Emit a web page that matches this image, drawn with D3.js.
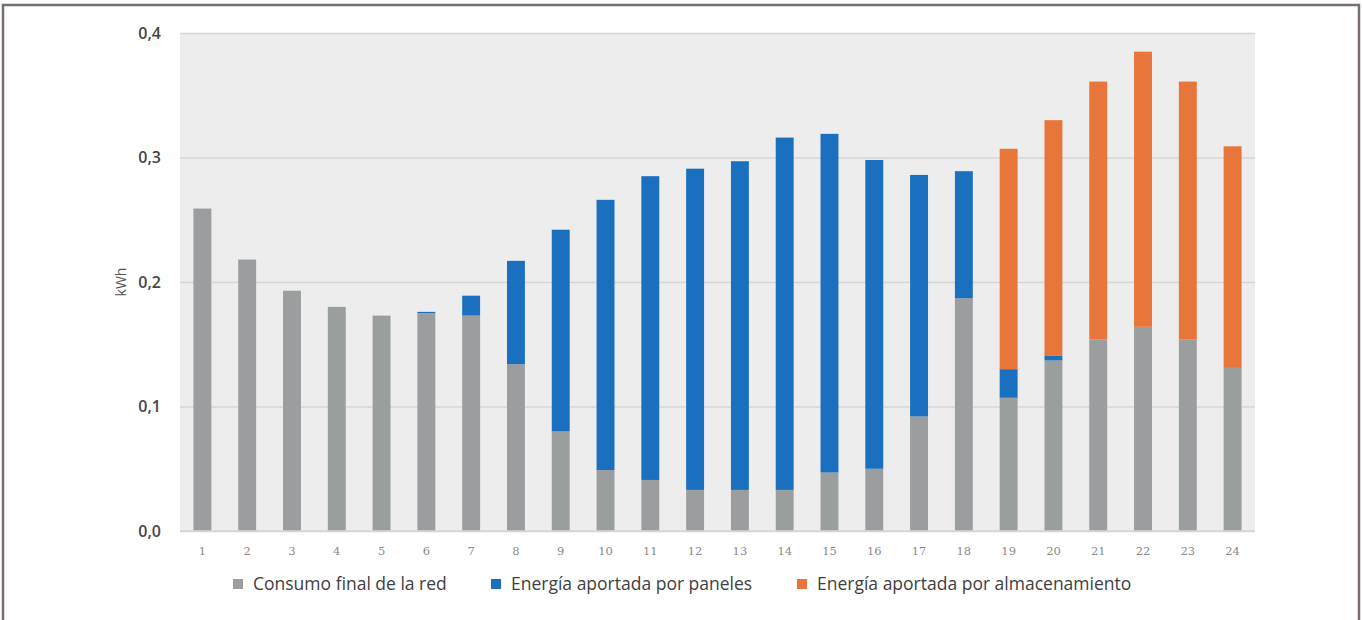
<!DOCTYPE html>
<html><head><meta charset="utf-8">
<script src="https://cdn.jsdelivr.net/npm/d3@7"></script>
<style>
html,body{margin:0;padding:0;background:#fff;}
svg{display:block;}
</style></head>
<body>
<svg id="chart" width="1362" height="620"></svg>
<script>
const hours = ["1","2","3","4","5","6","7","8","9","10","11","12","13","14","15","16","17","18","19","20","21","22","23","24"];
const consumoRed = [0.259,0.218,0.193,0.180,0.173,0.175,0.173,0.134,0.080,0.049,0.041,0.033,0.033,0.033,0.047,0.050,0.092,0.187,0.107,0.137,0.154,0.164,0.154,0.131];
const paneles    = [0,0,0,0,0,0.001,0.016,0.083,0.162,0.217,0.244,0.258,0.264,0.283,0.272,0.248,0.194,0.102,0.023,0.004,0,0,0,0];
const almacen    = [0,0,0,0,0,0,0,0,0,0,0,0,0,0,0,0,0,0,0.177,0.189,0.207,0.221,0.207,0.178];
const yTicks = [0,0.1,0.2,0.3,0.4];
const seriesNames = ["Consumo final de la red","Energía aportada por paneles","Energía aportada por almacenamiento"];
const colors = ["#9a9e9e","#1a6fbe","#e8753a"];

(function(){
const svg = d3.select("#chart");

// frame
svg.append("path").attr("d","M3,620 V5 H1359 V620").attr("fill","none").attr("stroke","#7a6e6e").attr("stroke-width",2.5);

const pL=180, pR=1255, pT=33, pB=531;
const x = d3.scaleBand().domain(hours).range([pL,pR]).paddingInner(0.6).paddingOuter(0.3);
const y = d3.scaleLinear().domain([0,0.4]).range([pB,pT]);

svg.append("rect").attr("x",pL).attr("y",pT).attr("width",pR-pL).attr("height",pB-pT).attr("fill","#ededed");

// grid
const yAxis = d3.axisLeft(y).tickValues(yTicks).tickSize(-(pR-pL)).tickFormat(d=>d3.format(".1f")(d).replace(".",","));
const gy = svg.append("g").attr("transform",`translate(${pL},0)`).call(yAxis);
gy.select(".domain").remove();
gy.selectAll(".tick line").attr("stroke","#d6d6d6").attr("stroke-width",1.5);
gy.selectAll(".tick text").attr("x",-19).attr("font-family","'Open Sans', sans-serif").attr("font-size",16).attr("font-weight","600").attr("fill","#454545");

// stacked bars
const data = hours.map((h,i)=>({h, s0:consumoRed[i], s1:paneles[i], s2:almacen[i]}));
const stack = d3.stack().keys(["s0","s1","s2"])(data);
svg.append("g").selectAll("g").data(stack).join("g").attr("fill",(d,i)=>colors[i])
  .selectAll("rect").data(d=>d).join("rect")
  .attr("x",d=>x(d.data.h)).attr("width",x.bandwidth())
  .attr("y",d=>y(d[1])).attr("height",d=>Math.max(0,y(d[0])-y(d[1])));

// baseline
svg.append("line").attr("x1",pL).attr("x2",pR).attr("y1",pB).attr("y2",pB).attr("stroke","#d6d6d6").attr("stroke-width",1.5);

// x axis
const gx = svg.append("g").attr("transform",`translate(0,${pB})`).call(d3.axisBottom(x).tickSize(0));
gx.select(".domain").remove();
gx.selectAll(".tick text").attr("dy",0).attr("y",24).attr("font-family","'DejaVu Serif', serif").attr("font-size",11.5).attr("fill","#8a8a8a");

// y label
svg.append("text").attr("transform","translate(126,282) rotate(-90)").attr("text-anchor","middle")
  .attr("font-family","'Open Sans', sans-serif").attr("font-size",14).attr("fill","#555").text("kWh");

// legend
const legX = [233,491,797];
const lg = svg.append("g").selectAll("g").data(seriesNames).join("g").attr("transform",(d,i)=>`translate(${legX[i]},579)`);
lg.append("rect").attr("width",10).attr("height",10).attr("fill",(d,i)=>colors[i]);
lg.append("text").attr("x",20).attr("y",11).attr("font-family","'Open Sans', sans-serif").attr("font-size",17.5).attr("fill","#404040").text(d=>d);
})();
</script>
</body></html>
